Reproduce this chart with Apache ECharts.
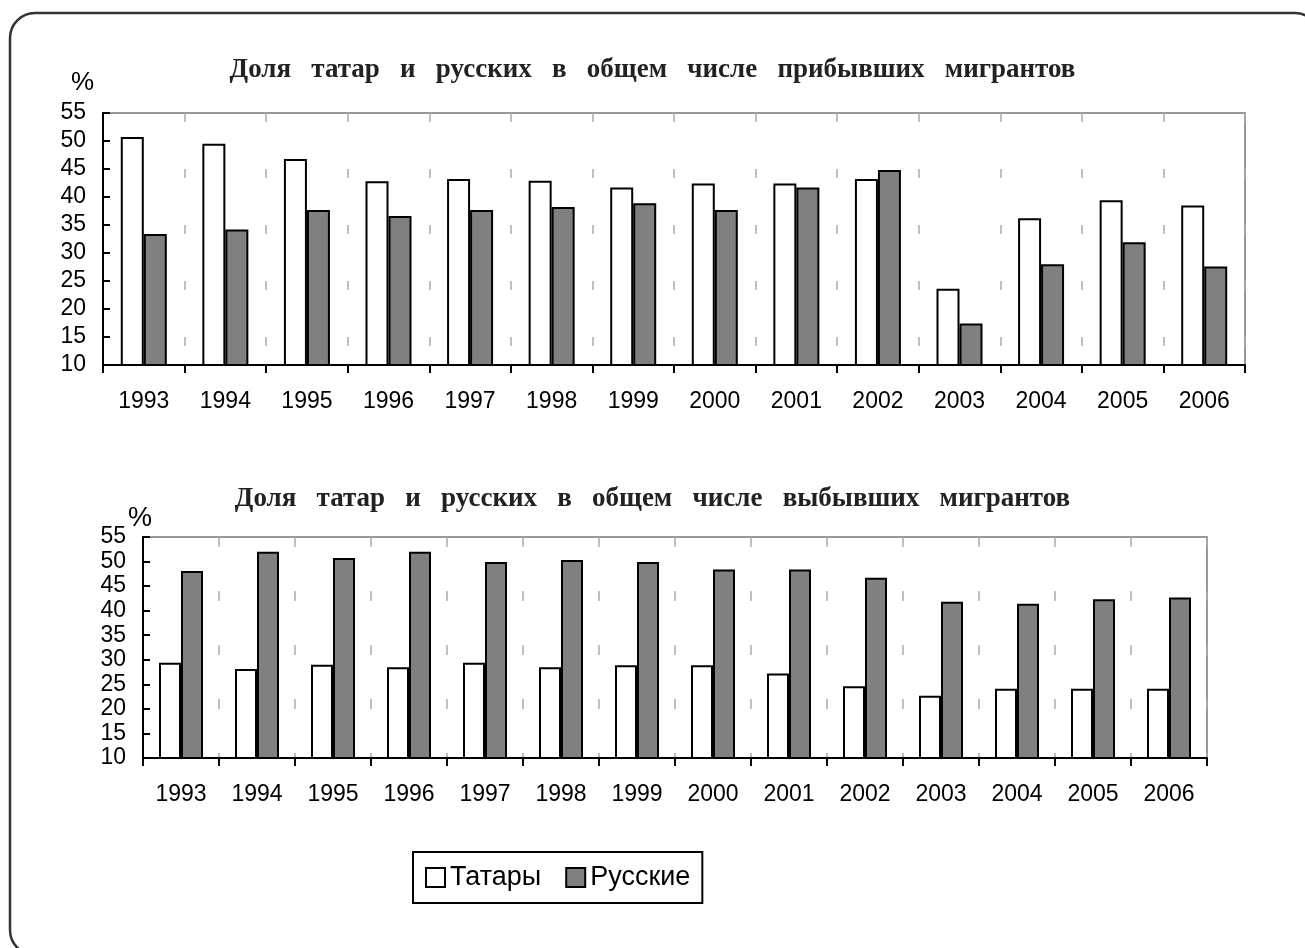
<!DOCTYPE html>
<html>
<head>
<meta charset="utf-8">
<script src="https://cdn.jsdelivr.net/npm/echarts@6/dist/echarts.min.js"></script>
<style>
  html, body { margin: 0; padding: 0; background: #fff; }
  #chart { width: 1305px; height: 948px; }
</style>
</head>
<body>
<div id="chart"></div>
<script>
// years on both charts
const years = ["1993", "1994", "1995", "1996", "1997", "1998", "1999",
  "2000", "2001", "2002", "2003", "2004", "2005", "2006"];

// arrivals (прибывшие), %
const arrivedTatars = [50.7, 49.5, 46.8, 42.8, 43.2, 42.9, 41.7, 42.4, 42.4, 43.2, 23.6, 36.2, 39.4, 38.5];
const arrivedRussians = [33.4, 34.2, 37.7, 36.6, 37.7, 38.2, 38.9, 37.7, 41.7, 44.8, 17.4, 28.0, 31.9, 27.6];

// departures (выбывшие), %
const leftTatars = [29.4, 28.1, 29.0, 28.5, 29.4, 28.5, 28.9, 28.9, 27.2, 24.6, 22.7, 24.1, 24.1, 24.1];
const leftRussians = [48.1, 52.0, 50.7, 52.0, 49.9, 50.3, 49.9, 48.4, 48.4, 46.7, 41.8, 41.4, 42.3, 42.7];

// titles are typeset with wide word spacing in the original
const titleTop = ["Доля", "татар", "и", "русских", "в", "общем", "числе", "прибывших", "мигрантов"].join("   ");
const titleBottom = ["Доля", "татар", "и", "русских", "в", "общем", "числе", "выбывших", "мигрантов"].join("   ");

const chart = echarts.init(document.getElementById("chart"));

const sansFont = "'Liberation Sans', Arial, sans-serif";
const serifFont = "'Liberation Serif', 'Times New Roman', serif";

function makeX(gridIndex, dash) {
  return {
    type: "category",
    gridIndex: gridIndex,
    data: years,
    axisLine: { lineStyle: { color: "#000", width: 2 } },
    axisTick: { show: true, length: 8, lineStyle: { color: "#000", width: 2 } },
    axisLabel: { color: "#000", fontSize: 23, fontFamily: sansFont, margin: 25 },
    splitLine: {
      show: true,
      lineStyle: { color: "#aaa", width: 1.5, type: dash },
    },
  };
}

function makeY(gridIndex) {
  return {
    type: "value",
    gridIndex: gridIndex,
    min: 10,
    max: 55,
    interval: 5,
    axisLine: { show: true, lineStyle: { color: "#000", width: 2 } },
    axisTick: { show: true, inside: true, length: 7, lineStyle: { color: "#000", width: 2 } },
    axisLabel: { color: "#000", fontSize: 23, fontFamily: sansFont, margin: 17 },
    splitLine: { show: false },
  };
}

const barBase = {
  type: "bar",
  barGap: "0%",
  animation: false,
};

const option = {
  animation: false,
  backgroundColor: "#fff",
  title: [
    {
      text: titleTop,
      left: "center",
      top: 52,
      textStyle: { fontFamily: serifFont, fontWeight: "bold", fontSize: 27, color: "#222" },
    },
    {
      text: titleBottom,
      left: "center",
      top: 481,
      textStyle: { fontFamily: serifFont, fontWeight: "bold", fontSize: 27, color: "#222" },
    },
  ],
  legend: {
    data: ["Татары", "Русские"],
    left: 413,
    top: 852,
    orient: "horizontal",
    borderColor: "#000",
    borderWidth: 2,
    padding: [12, 12, 12, 12],
    itemGap: 24,
    itemWidth: 19,
    itemHeight: 19,
    icon: "rect",
    textStyle: { fontFamily: sansFont, fontSize: 27, color: "#000" },
  },
  grid: [
    { left: 103, top: 113, width: 1142, height: 252, show: true, borderColor: "#999", borderWidth: 2, backgroundColor: "#fff" },
    { left: 143, top: 537, width: 1064, height: 221, show: true, borderColor: "#999", borderWidth: 2, backgroundColor: "#fff" },
  ],
  xAxis: [makeX(0, [9, 47]), makeX(1, [10, 44])],
  yAxis: [makeY(0), makeY(1)],
  series: [
    Object.assign({}, barBase, {
      name: "Татары", xAxisIndex: 0, yAxisIndex: 0, barWidth: 23, data: arrivedTatars,
      itemStyle: { color: "#fff", borderColor: "#000", borderWidth: 2 },
    }),
    Object.assign({}, barBase, {
      name: "Русские", xAxisIndex: 0, yAxisIndex: 0, barWidth: 23, data: arrivedRussians,
      itemStyle: { color: "#808080", borderColor: "#000", borderWidth: 2 },
    }),
    Object.assign({}, barBase, {
      name: "Татары", xAxisIndex: 1, yAxisIndex: 1, barWidth: 22, data: leftTatars,
      itemStyle: { color: "#fff", borderColor: "#000", borderWidth: 2 },
    }),
    Object.assign({}, barBase, {
      name: "Русские", xAxisIndex: 1, yAxisIndex: 1, barWidth: 22, data: leftRussians,
      itemStyle: { color: "#808080", borderColor: "#000", borderWidth: 2 },
    }),
  ],
  graphic: [
    {
      type: "rect",
      shape: { x: 10, y: 13, width: 1310, height: 942, r: 25 },
      style: { fill: "none", stroke: "#333", lineWidth: 2.5 },
      silent: true,
      z: 100,
    },
    {
      type: "text",
      left: 71,
      top: 70,
      style: { text: "%", fontFamily: sansFont, fontSize: 26, fill: "#000" },
    },
    {
      type: "text",
      left: 128,
      top: 505,
      style: { text: "%", fontFamily: sansFont, fontSize: 27, fill: "#000" },
    },
  ],
};

chart.setOption(option);
</script>
</body>
</html>
